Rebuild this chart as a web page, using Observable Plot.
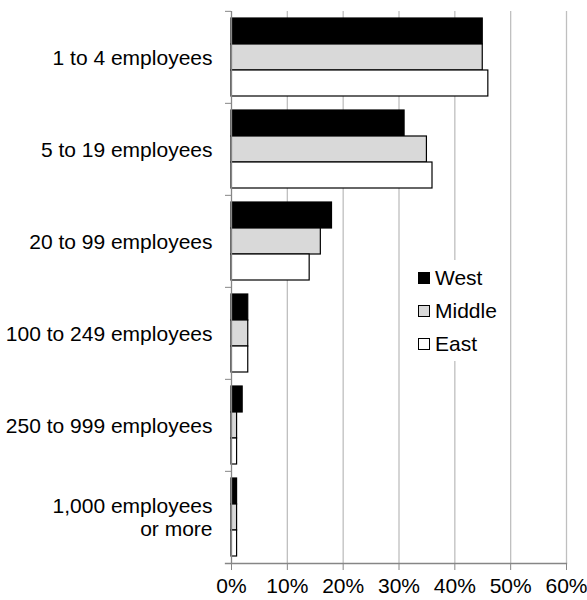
<!DOCTYPE html>
<html>
<head>
<meta charset="utf-8">
<script src="https://cdn.jsdelivr.net/npm/d3@7"></script>
<script src="https://cdn.jsdelivr.net/npm/@observablehq/plot@0.6"></script>
<style>
  html, body { margin: 0; padding: 0; background: white; }
  #wrap { position: relative; width: 587px; height: 600px; font-family: "Liberation Sans", Arial, sans-serif; }
  #legend { position: absolute; left: 413px; top: 260px; background: white; padding: 1px 6px 1px 5px; }
  .row { display: flex; align-items: center; height: 33px; font-size: 21px; color: black; }
  .sw { width: 12px; height: 12px; box-sizing: border-box; border: 1.2px solid black; margin-right: 5px; }
</style>
</head>
<body>
<div id="wrap"></div>
<script>
const categories = ["1 to 4 employees", "5 to 19 employees", "20 to 99 employees", "100 to 249 employees", "250 to 999 employees", "1,000 employees\nor more"];
const seriesNames = ["West", "Middle", "East"];
const seriesColors = ["#000000", "#d9d9d9", "#ffffff"];
const west = [45, 31, 18, 3, 2, 1];
const middle = [45, 35, 16, 3, 1, 1];
const east = [46, 36, 14, 3, 1, 1];
const xTicks = [0, 10, 20, 30, 40, 50, 60];

const seriesValues = [west, middle, east];
const data = [];
categories.forEach((c, i) => {
  seriesNames.forEach((s, j) => data.push({category: c, series: s, value: seriesValues[j][i]}));
});

const W = 587, H = 600, mt = 10, mb = 36, ml = 231, mr = 21;
const facetStep = (H - mt - mb) / categories.length;
const axisGray = "#868686";
const gridGray = "#bfbfbf";

const chart = Plot.plot({
  width: W,
  height: H,
  marginTop: mt,
  marginBottom: mb,
  marginLeft: ml,
  marginRight: mr,
  style: {fontFamily: "'Liberation Sans', Arial, sans-serif", fontSize: "21px", color: "black", background: "white"},
  x: {domain: [0, 60]},
  y: {domain: seriesNames, paddingInner: 0, paddingOuter: 0.24, axis: null},
  fy: {domain: categories, padding: 0},
  color: {domain: seriesNames, range: seriesColors},
  marks: [
    Plot.gridX(xTicks.slice(1), {stroke: gridGray, strokeOpacity: 1, strokeWidth: 1.3}),
    Plot.barX(data, {x: "value", y: "series", fy: "category", fill: "series", stroke: "black", strokeWidth: 1.2}),
    Plot.ruleX([0], {stroke: axisGray, strokeWidth: 1.3}),
    Plot.frame({anchor: "bottom", facetAnchor: "bottom", insetLeft: -6, stroke: axisGray, strokeWidth: 1.3}),
    Plot.axisFy({anchor: "left", tickSize: 0, tickPadding: 19, label: null, lineHeight: 1.1, fill: "black"}),
    Plot.axisFy({anchor: "left", tickSize: 6, tickFormat: () => "", label: null, dy: -facetStep / 2, stroke: axisGray}),
    Plot.axisX(xTicks, {anchor: "bottom", tickSize: 7, tickPadding: 8, tickFormat: d => d + "%", label: null, stroke: axisGray, fill: "black"})
  ]
});

const wrap = document.getElementById("wrap");
wrap.appendChild(chart);

const legend = document.createElement("div");
legend.id = "legend";
seriesNames.forEach((s, j) => {
  const row = document.createElement("div");
  row.className = "row";
  const sw = document.createElement("div");
  sw.className = "sw";
  sw.style.background = seriesColors[j];
  const t = document.createElement("span");
  t.textContent = s;
  row.appendChild(sw);
  row.appendChild(t);
  legend.appendChild(row);
});
wrap.appendChild(legend);
</script>
</body>
</html>
